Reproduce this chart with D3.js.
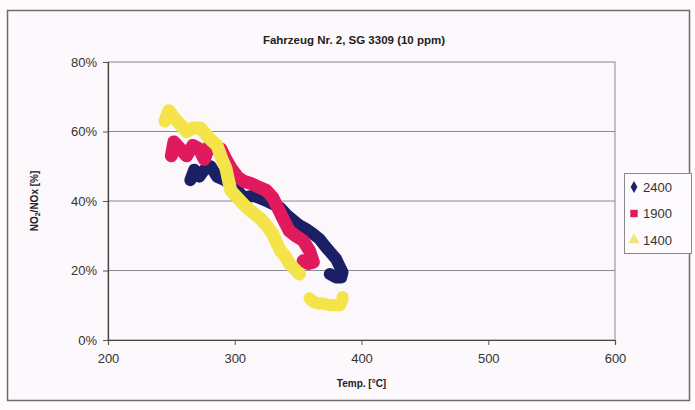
<!DOCTYPE html>
<html><head><meta charset="utf-8">
<script src="https://cdn.jsdelivr.net/npm/d3@7"></script>
<style>body{margin:0;background:#fff;}svg{display:block;}</style>
</head><body>
<svg id="c" width="695" height="410"></svg>
<script>
const title = "Fahrzeug Nr. 2, SG 3309 (10 ppm)";
const xTicks = [200, 300, 400, 500, 600];
const yTicks = [0, 0.2, 0.4, 0.6, 0.8];
const seriesNames = ["2400", "1900", "1400"];
const colors = ["#1b1f66", "#e01a5c", "#f4e44a"];
// [temperature °C, NO2/NOx fraction]
const s2400 = [[265,0.46],[268,0.49],[272,0.47],[276,0.49],[281,0.50],[286,0.47],[292,0.46],[300,0.44],[307,0.41],[315,0.415],[325,0.40],[336,0.38],[341,0.36],[346,0.345],[351,0.33],[356,0.32],[362,0.305],[367,0.29],[372,0.267],[376,0.25],[380,0.233],[383,0.21],[385,0.195],[384,0.18],[380,0.18],[375,0.19]];
const s1900 = [[250,0.53],[252,0.57],[257,0.55],[262,0.53],[267,0.56],[272,0.55],[276,0.52],[280,0.56],[285,0.55],[289,0.55],[293,0.52],[297,0.495],[302,0.47],[307,0.457],[313,0.45],[320,0.438],[325,0.43],[330,0.41],[334,0.38],[338,0.35],[343,0.314],[348,0.30],[354,0.286],[359,0.257],[362,0.224],[358,0.22],[354,0.228]];
const s1400 = [[245,0.63],[248,0.66],[252,0.64],[257,0.62],[262,0.60],[267,0.61],[273,0.61],[280,0.58],[286,0.56],[290,0.52],[293,0.495],[295,0.46],[297,0.43],[302,0.41],[307,0.39],[313,0.37],[320,0.35],[325,0.33],[330,0.305],[333,0.28],[336,0.257],[340,0.24],[343,0.22],[347,0.205],[351,0.19]];
const s1400b = [[359,0.12],[362,0.11],[366,0.105],[370,0.105],[375,0.10],[380,0.10],[383,0.10],[385,0.115],[385,0.124]];

const svg = d3.select("#c");
svg.append("rect").attr("x",0).attr("y",0).attr("width",695).attr("height",410).attr("fill","#fdfafc");
svg.append("rect").attr("x",7.5).attr("y",10.5).attr("width",682).attr("height",390)
  .attr("fill","#fcf8fb").attr("stroke","#6d6b70").attr("stroke-width",1.5);

const L=108, R=615, T=62, B=340;
const x = d3.scaleLinear().domain([200,600]).range([L,R]);
const y = d3.scaleLinear().domain([0,0.8]).range([B,T]);

svg.append("rect").attr("x",L).attr("y",T).attr("width",R-L).attr("height",B-T)
  .attr("fill","#fbf7fa").attr("stroke","#8a888c").attr("stroke-width",1);

// gridlines
svg.append("g").selectAll("line").data(yTicks.slice(1,4)).join("line")
  .attr("x1",L).attr("x2",R).attr("y1",d=>y(d)).attr("y2",d=>y(d))
  .attr("stroke","#8c8a8e").attr("stroke-width",1);

const yAxis = d3.axisLeft(y).tickValues(yTicks).tickFormat(d3.format(".0%")).tickSize(5).tickPadding(6);
const gy = svg.append("g").attr("transform",`translate(${L},0)`).call(yAxis);
const xAxis = d3.axisBottom(x).tickValues(xTicks).tickSize(5).tickPadding(9);
const gx = svg.append("g").attr("transform",`translate(0,${B})`).call(xAxis);
[gx,gy].forEach(g=>{
  g.select(".domain").attr("stroke","#444").attr("stroke-width",1.2);
  g.selectAll(".tick line").attr("stroke","#555");
  g.selectAll("text").attr("font-family","Liberation Sans, Arial, sans-serif").attr("font-size",13).attr("fill","#333");
});

const line = d3.line().x(d=>x(d[0])).y(d=>y(d[1])).curve(d3.curveLinear);
const drawSeries = (data, color, w) => {
  svg.append("path").attr("d", line(data)).attr("fill","none").attr("stroke",color)
    .attr("stroke-width",w).attr("stroke-linejoin","round").attr("stroke-linecap","round");
};
drawSeries(s2400, colors[0], 12);
drawSeries(s1900, colors[1], 13);
drawSeries(s1400, colors[2], 13);
drawSeries(s1400b, colors[2], 12);

svg.append("text").attr("x",354).attr("y",44).attr("text-anchor","middle")
  .attr("font-family","Liberation Sans, Arial, sans-serif").attr("font-weight","bold").attr("font-size",11.5).attr("fill","#222").text(title);
svg.append("text").attr("x",(L+R)/2).attr("y",387).attr("text-anchor","middle")
  .attr("font-family","Liberation Sans, Arial, sans-serif").attr("font-weight","bold").attr("font-size",10).attr("fill","#222").text("Temp. [°C]");
const yt = svg.append("text").attr("transform",`translate(38,${(T+B)/2}) rotate(-90)`).attr("text-anchor","middle")
  .attr("font-family","Liberation Sans, Arial, sans-serif").attr("font-weight","bold").attr("font-size",10).attr("fill","#222");
yt.append("tspan").text("NO");
yt.append("tspan").attr("font-size",7).attr("dy",2).text("2");
yt.append("tspan").attr("dy",-2).text("/NOx [%]");

// legend
const lg = svg.append("g");
lg.append("rect").attr("x",624.5).attr("y",173.5).attr("width",67).attr("height",80)
  .attr("fill","#fdfbfd").attr("stroke","#8a888c");
const sym = [d3.symbolDiamond, d3.symbolSquare, d3.symbolTriangle];
const legColors = ["#1b1f66", "#e01a5c", "#f2e47a"];
seriesNames.forEach((n,i)=>{
  const yy = 187 + i*26.5;
  lg.append("path").attr("d", d3.symbol(sym[i], i===0?40:55)()).attr("transform",`translate(634,${yy})`).attr("fill",legColors[i]);
  lg.append("text").attr("x",643).attr("y",yy+4.5).attr("font-family","Liberation Sans, Arial, sans-serif")
    .attr("font-size",13).attr("fill","#333").text(n);
});
</script>
</body></html>
